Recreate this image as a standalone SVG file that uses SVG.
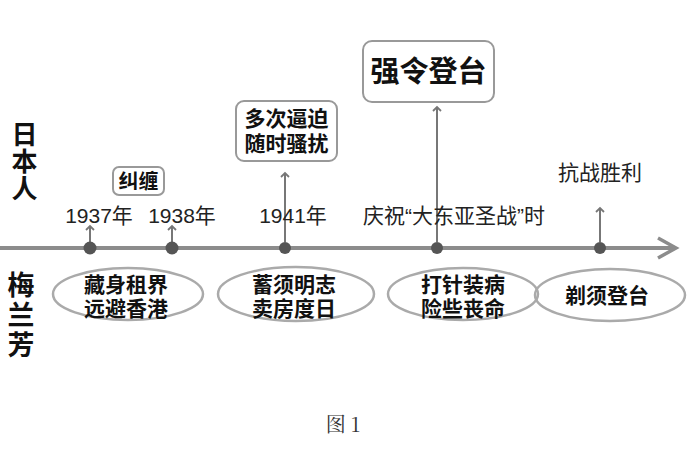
<svg xmlns="http://www.w3.org/2000/svg" width="700" height="465" viewBox="0 0 700 465">
<style>
.lbl{font-family:"Liberation Sans","Noto Sans CJK SC",sans-serif;font-size:21px;fill:#222}
.b{font-family:"Liberation Sans","Noto Sans CJK SC",sans-serif;font-weight:bold;fill:#111}
.vert{font-family:"Noto Sans CJK SC",sans-serif;writing-mode:vertical-rl;text-orientation:upright}
.box{fill:#fff;stroke:#999;stroke-width:2}
.ell{fill:none;stroke:#aaa;stroke-width:2.5}
.con{stroke:#777;stroke-width:2;fill:none}
.dot{fill:#555}
</style>
<defs>
<marker id="ah" markerWidth="10" markerHeight="10" refX="5" refY="5" orient="auto" markerUnits="userSpaceOnUse">
<path d="M1,1 L5,5 L1,9" fill="none" stroke="#777" stroke-width="1.8"/>
</marker>
</defs>
<rect width="700" height="465" fill="#fff"/>
<g id="axis">
<line x1="0" y1="248" x2="674" y2="248" stroke="#8c8c8c" stroke-width="4"/>
<path d="M658,238 L676,248 L658,258" fill="none" stroke="#8c8c8c" stroke-width="3.5"/>
</g>
<g id="connectors">
<line class="con" x1="90" y1="242" x2="90" y2="226" marker-end="url(#ah)"/>
<line class="con" x1="172" y1="242" x2="172" y2="226" marker-end="url(#ah)"/>
<line class="con" x1="285" y1="242" x2="285" y2="173" marker-end="url(#ah)"/>
<line class="con" x1="437" y1="242" x2="437" y2="107" marker-end="url(#ah)"/>
<line class="con" x1="600" y1="242" x2="600" y2="208" marker-end="url(#ah)"/>
</g>
<g id="dots">
<circle class="dot" cx="90" cy="248" r="6.5"/>
<circle class="dot" cx="172" cy="248" r="6.5"/>
<circle class="dot" cx="285" cy="248" r="6"/>
<circle class="dot" cx="437" cy="248" r="6"/>
<circle class="dot" cx="600" cy="248" r="6"/>
</g>
<g id="side-japan">
<text class="b vert" x="24.5" y="121" font-size="26" letter-spacing="1">日本人</text>
</g>
<g id="side-mei">
<text class="b vert" x="21" y="271" font-size="27" letter-spacing="3">梅兰芳</text>
</g>
<g id="year1937"><text class="lbl" x="99" y="223" text-anchor="middle">1937年</text></g>
<g id="year1938"><text class="lbl" x="182" y="223" text-anchor="middle">1938年</text></g>
<g id="year1941"><text class="lbl" x="293" y="223" text-anchor="middle">1941年</text></g>
<g id="celebrate"><text class="lbl" x="454" y="223" text-anchor="middle">庆祝“大东亚圣战”时</text></g>
<g id="victory"><text class="lbl" x="600" y="180" text-anchor="middle">抗战胜利</text></g>
<g id="jiuchan">
<rect class="box" x="113" y="167" width="51" height="28" rx="6"/>
<text class="b" x="138.5" y="189" font-size="20" text-anchor="middle">纠缠</text>
</g>
<g id="bipo">
<rect class="box" x="236" y="101" width="101" height="60" rx="8"/>
<text class="b" font-size="21" text-anchor="middle"><tspan x="286.5" y="126">多次逼迫</tspan><tspan x="286.5" y="151">随时骚扰</tspan></text>
</g>
<g id="qiangling">
<rect class="box" x="363" y="41" width="131" height="61" rx="9"/>
<text class="b" x="428.5" y="82" font-size="29" text-anchor="middle">强令登台</text>
</g>
<g id="e1">
<ellipse class="ell" cx="128" cy="294" rx="75" ry="26"/>
<text class="b" font-size="21" text-anchor="middle"><tspan x="126" y="292">藏身租界</tspan><tspan x="126" y="316">远避香港</tspan></text>
</g>
<g id="e2">
<ellipse class="ell" cx="296" cy="294" rx="78" ry="27"/>
<text class="b" font-size="21" text-anchor="middle"><tspan x="294" y="292">蓄须明志</tspan><tspan x="294" y="316">卖房度日</tspan></text>
</g>
<g id="e3">
<ellipse class="ell" cx="463" cy="294" rx="75" ry="26"/>
<text class="b" font-size="21" text-anchor="middle"><tspan x="463" y="292">打针装病</tspan><tspan x="463" y="316">险些丧命</tspan></text>
</g>
<g id="e4">
<ellipse class="ell" cx="610" cy="295" rx="75" ry="26"/>
<text class="b" x="607" y="303" font-size="21" text-anchor="middle">剃须登台</text>
</g>
<g id="caption">
<text x="343" y="432" font-family="'Noto Serif CJK SC','Liberation Serif','Noto Sans CJK SC',serif" font-size="20" fill="#333" text-anchor="middle">图 1</text>
</g>
</svg>
